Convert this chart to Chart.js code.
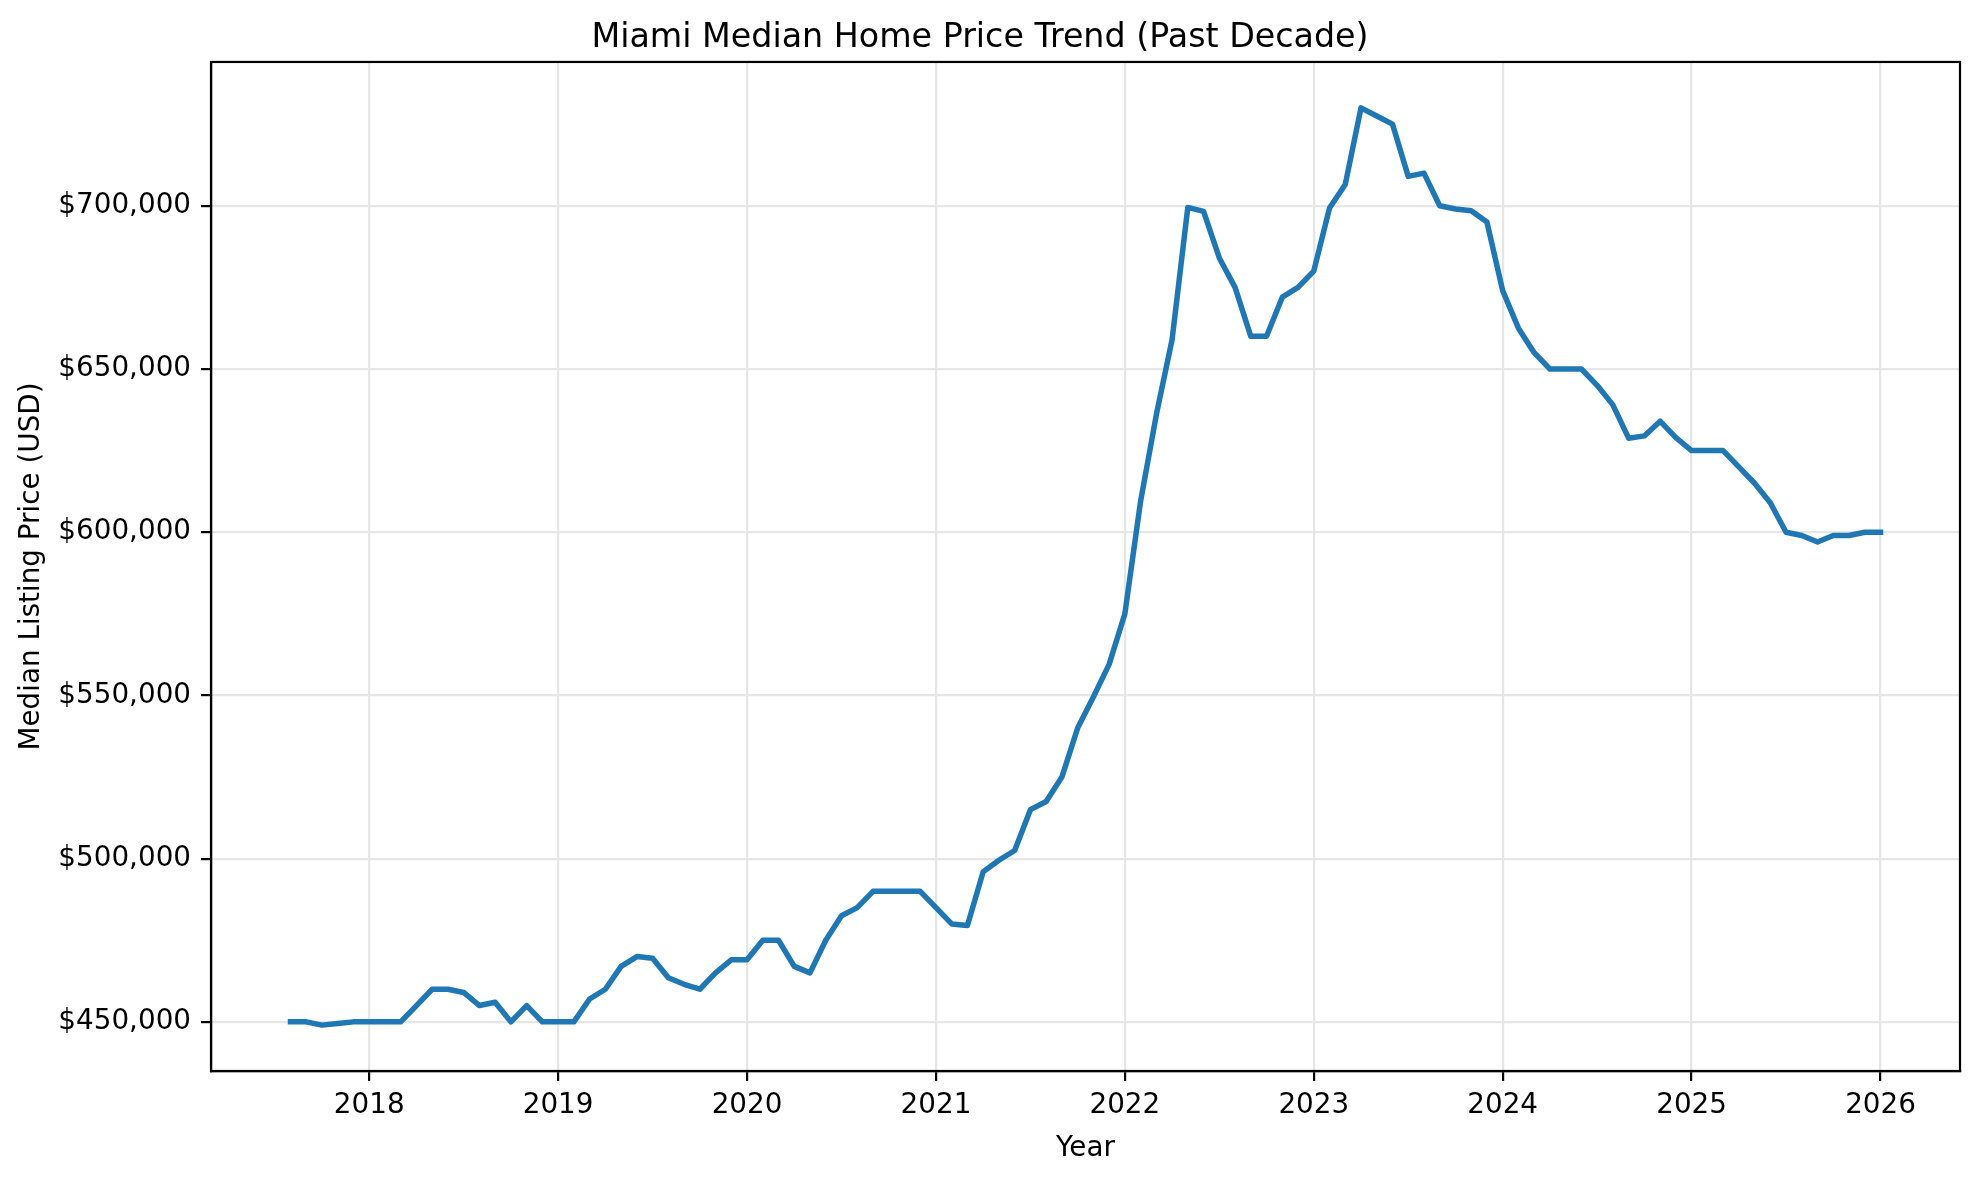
<!DOCTYPE html>
<html>
<head>
<meta charset="utf-8">
<title>Miami Median Home Price Trend</title>
<script src="https://cdn.jsdelivr.net/npm/chart.js@4.4.1/dist/chart.umd.min.js"></script>
<style>
  html, body { margin: 0; padding: 0; background: #ffffff; }
  #chart { display: block; }
</style>
</head>
<body>
<canvas id="chart" width="1979" height="1180"></canvas>
<script>
// Monthly median listing price, Miami
const months = [
  "2017-08", "2017-09", "2017-10", "2017-11", "2017-12",
  "2018-01", "2018-02", "2018-03", "2018-04", "2018-05", "2018-06", "2018-07", "2018-08", "2018-09", "2018-10", "2018-11", "2018-12",
  "2019-01", "2019-02", "2019-03", "2019-04", "2019-05", "2019-06", "2019-07", "2019-08", "2019-09", "2019-10", "2019-11", "2019-12",
  "2020-01", "2020-02", "2020-03", "2020-04", "2020-05", "2020-06", "2020-07", "2020-08", "2020-09", "2020-10", "2020-11", "2020-12",
  "2021-01", "2021-02", "2021-03", "2021-04", "2021-05", "2021-06", "2021-07", "2021-08", "2021-09", "2021-10", "2021-11", "2021-12",
  "2022-01", "2022-02", "2022-03", "2022-04", "2022-05", "2022-06", "2022-07", "2022-08", "2022-09", "2022-10", "2022-11", "2022-12",
  "2023-01", "2023-02", "2023-03", "2023-04", "2023-05", "2023-06", "2023-07", "2023-08", "2023-09", "2023-10", "2023-11", "2023-12",
  "2024-01", "2024-02", "2024-03", "2024-04", "2024-05", "2024-06", "2024-07", "2024-08", "2024-09", "2024-10", "2024-11", "2024-12",
  "2025-01", "2025-02", "2025-03", "2025-04", "2025-05", "2025-06", "2025-07", "2025-08", "2025-09", "2025-10", "2025-11", "2025-12",
  "2026-01"
];

const medianPrice = [
  450000, 450000, 449000, 449500, 450000,
  450000, 450000, 450000, 455000, 460000, 460000, 459000, 455000, 456000, 450000, 455000, 450000,
  450000, 450000, 457000, 460000, 467000, 470000, 469500, 463500, 461500, 460000, 465000, 469000,
  469000, 475000, 475000, 467000, 465000, 475000, 482500, 485000, 490000, 490000, 490000, 490000,
  485000, 480000, 479500, 496000, 499500, 502500, 515000, 517500, 525000, 540000, 549500, 559500,
  575000, 609500, 636000, 659000, 699500, 698300, 684000, 675000, 660000, 660000, 672000, 675000,
  680000, 699300, 706500, 730000, 727500, 725000, 709000, 710000, 700000, 699000, 698500, 695000,
  674000, 662500, 655000, 650000, 650000, 650000, 645000, 639000, 628800, 629500, 634000, 629000,
  625000, 625000, 625000, 620000, 615000, 609000, 600000, 599000, 597000, 599000, 599000, 600000,
  600000
];

const yearTicks = [2018, 2019, 2020, 2021, 2022, 2023, 2024, 2025, 2026];
const priceTicks = [450000, 500000, 550000, 600000, 650000, 700000];

// "YYYY-MM" -> fractional year, so ticks land on Jan 1st
function toYear(label) {
  const parts = label.split("-");
  return Number(parts[0]) + (Number(parts[1]) - 1) / 12;
}

const points = months.map((m, i) => ({ x: toYear(m), y: medianPrice[i] }));

const xs = points.map(p => p.x);
const xPad = (Math.max(...xs) - Math.min(...xs)) * 0.05;
const yPad = (Math.max(...medianPrice) - Math.min(...medianPrice)) * 0.05;

Chart.defaults.font.family = "'DejaVu Sans', sans-serif";
Chart.defaults.color = "#000000";

// matplotlib draws a box round the plot, Chart.js only draws the two axis lines
const frameBox = {
  id: "frameBox",
  afterDraw(chart) {
    const { ctx, chartArea } = chart;
    ctx.save();
    ctx.strokeStyle = "#000000";
    ctx.lineWidth = 2.2;
    ctx.strokeRect(chartArea.left, chartArea.top, chartArea.right - chartArea.left, chartArea.bottom - chartArea.top);
    ctx.restore();
  }
};

const gridStyle = {
  color: "#e6e6e6",
  lineWidth: 2.2,
  tickColor: "#000000",
  tickWidth: 2.2,
  tickLength: 10,
  drawTicks: true
};

new Chart(document.getElementById("chart"), {
  type: "line",
  data: {
    datasets: [{
      label: "Median Listing Price",
      data: points,
      borderColor: "#1f77b4",
      borderWidth: 5.5,
      pointRadius: 0,
      tension: 0,
      borderJoinStyle: "round",
      borderCapStyle: "square",
      fill: false
    }]
  },
  options: {
    responsive: false,
    animation: false,
    devicePixelRatio: 1,
    layout: { padding: { left: 0, right: 19, top: 0, bottom: 0 } },
    plugins: {
      legend: { display: false },
      tooltip: { enabled: false },
      title: {
        display: true,
        text: "Miami Median Home Price Trend (Past Decade)",
        font: { size: 33.3, weight: "normal" },
        color: "#000000",
        padding: { top: 18, bottom: 4 }
      }
    },
    scales: {
      x: {
        type: "linear",
        min: Math.min(...xs) - xPad,
        max: Math.max(...xs) + xPad,
        grid: gridStyle,
        border: { display: true, color: "#000000", width: 2.2 },
        afterBuildTicks(scale) {
          scale.ticks = yearTicks.map(v => ({ value: v }));
        },
        ticks: {
          font: { size: 27.8 },
          padding: 8,
          maxRotation: 0,
          autoSkip: false,
          callback: v => String(v)
        },
        title: {
          display: true,
          text: "Year",
          font: { size: 27.8 },
          padding: { top: 0, bottom: 15 }
        },
        afterFit(scale) { scale.height = 109; }
      },
      y: {
        type: "linear",
        min: Math.min(...medianPrice) - yPad,
        max: Math.max(...medianPrice) + yPad,
        grid: gridStyle,
        border: { display: true, color: "#000000", width: 2.2 },
        afterBuildTicks(scale) {
          scale.ticks = priceTicks.map(v => ({ value: v }));
        },
        ticks: {
          font: { size: 27.8 },
          padding: 10,
          callback: v => "$" + Number(v).toLocaleString("en-US")
        },
        title: {
          display: true,
          text: "Median Listing Price (USD)",
          font: { size: 27.8 },
          padding: { top: 15, bottom: 0 }
        },
        afterFit(scale) { scale.width = 211; }
      }
    }
  },
  plugins: [frameBox]
});
</script>
</body>
</html>
